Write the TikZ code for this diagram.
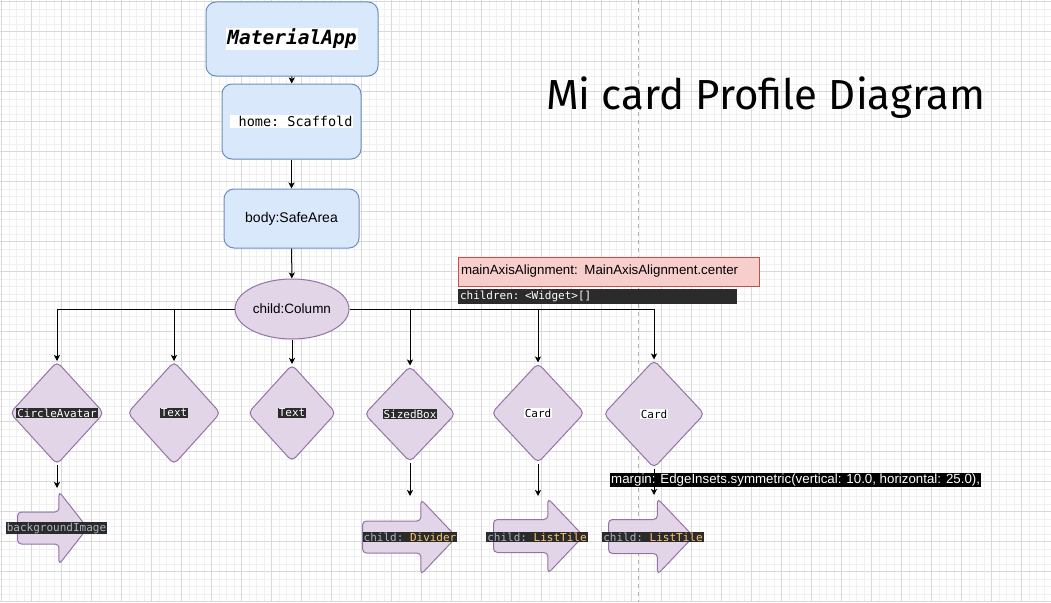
\documentclass[tikz,border=0pt]{standalone}
\usepackage{fontspec}
\setmainfont{Liberation Sans}
\setmonofont{DejaVu Sans Mono}
\newfontfamily\titlefont{Fira Sans}
\usetikzlibrary{shapes.geometric,shapes.arrows,arrows.meta}
\definecolor{bluefill}{HTML}{DAE8FC}
\definecolor{blueline}{HTML}{6C8EBF}
\definecolor{purplefill}{HTML}{E1D5E7}
\definecolor{purpleline}{HTML}{9673A6}
\definecolor{redfill}{HTML}{F8CECC}
\definecolor{redline}{HTML}{B85450}
\definecolor{codebg}{HTML}{2B2B2B}
\definecolor{codegray}{HTML}{A9B7C6}
\definecolor{codeyellow}{HTML}{FFC66D}
\definecolor{gridminor}{HTML}{F0F0F0}
\definecolor{gridmajor}{HTML}{D9D9D9}
\begin{document}
\begin{tikzpicture}[x=1pt,y=-1pt,
    box/.style={draw=blueline,fill=bluefill,rounded corners=10pt,line width=1pt},
    wdg/.style={diamond,draw=purpleline,fill=purplefill,rounded corners=5pt,line width=1pt,inner sep=0pt},
    chld/.style={single arrow,draw=purpleline,fill=purplefill,rounded corners=4pt,line width=1pt,inner sep=0pt,
      single arrow tip angle=93,single arrow head extend=21pt,anchor=tail},
    code/.style={fill=codebg,text=white,font=\ttfamily\fontsize{11}{13}\selectfont,inner sep=1pt},
    card/.style={fill=white,text=black,font=\ttfamily\fontsize{11}{13}\selectfont,inner sep=1pt},
    hl/.style={fill=white,inner sep=1pt},
    edge/.style={-{Stealth[length=6pt,width=6pt,inset=1.5pt]},line width=1pt}]
  \useasboundingbox (0,0) rectangle (1051,602);
  \fill[white] (0,0) rectangle (1051,602);
  \foreach \g in {0,...,139}
    \draw[gridminor,line width=0.6pt] ({1.7+7.5*\g},0) -- ({1.7+7.5*\g},602);
  \foreach \g in {0,...,80}
    \draw[gridminor,line width=0.6pt] (0,{1.7+7.5*\g}) -- (1051,{1.7+7.5*\g});
  \foreach \g in {0,...,34}
    \draw[gridmajor,line width=0.6pt] ({1.7+30*\g},0) -- ({1.7+30*\g},602);
  \foreach \g in {0,...,20}
    \draw[gridmajor,line width=0.6pt] (0,{1.7+30*\g}) -- (1051,{1.7+30*\g});
  \draw[gray!60,line width=0.8pt,dash pattern=on 4pt off 4pt] (638,0) -- (638,602);

  \node[box,minimum width=172pt,minimum height=74pt,
    label={[hl,font=\ttfamily\bfseries\itshape\fontsize{19.5}{22}\selectfont]center:MaterialApp}] (app) at (292,39) {};
  \node[box,minimum width=139pt,minimum height=75pt,
    label={[hl,font=\ttfamily\fontsize{13.5}{16}\selectfont]center:\ home: Scaffold}] (home) at (291.5,121.5) {};
  \node[box,minimum width=135pt,minimum height=59pt,font=\fontsize{14}{17}\selectfont] (safe) at (291.5,218.5) {body:SafeArea};
  \node[ellipse,draw=purpleline,fill=purplefill,line width=1pt,minimum width=114pt,minimum height=60pt,
    inner sep=0pt,font=\fontsize{13.5}{16}\selectfont] (col) at (292,309) {child:Column};

  \node[wdg,minimum width=94pt,minimum height=103pt,label={[code]center:CircleAvatar}] (avatar) at (57,413) {};
  \node[wdg,minimum width=93pt,minimum height=103pt,label={[code]center:Text}] (text1) at (174,413) {};
  \node[wdg,minimum width=88pt,minimum height=97pt,label={[code]center:Text}] (text2) at (292,413) {};
  \node[wdg,minimum width=91pt,minimum height=96pt,label={[code]center:SizedBox}] (sized) at (410,414) {};
  \node[wdg,minimum width=93pt,minimum height=100pt,label={[card]center:Card}] (card1) at (538,413) {};
  \node[wdg,minimum width=101pt,minimum height=108pt,label={[card]center:Card}] (card2) at (654,414) {};

  \node[chld,minimum height=70pt,single arrow head extend=20.5pt,single arrow tip angle=104] (bgimg) at (17,528) {\rule{0pt}{31pt}};
  \node[chld,minimum height=94pt,single arrow head extend=21.5pt] (divider) at (362,537) {\rule{0pt}{31pt}};
  \node[chld,minimum height=90pt] (tile1) at (493,536) {\rule{0pt}{32pt}};
  \node[chld,minimum height=85pt] (tile2) at (608,536.5) {\rule{0pt}{33pt}};
  \node[code,text=codegray] (bgimgtext) at (56.5,528) {backgroundImage};
  \node[code,text=codegray] (dividertext) at (410,537) {child: \textcolor{codeyellow}{Divider}};
  \node[code,text=codegray] (tile1text) at (537,537) {child: \textcolor{codeyellow}{ListTile}};
  \node[code,text=codegray] (tile2text) at (653,537) {child: \textcolor{codeyellow}{ListTile}};

  \coordinate (bgtop) at (57,488);
  \coordinate (dividertop) at (410,496);
  \coordinate (tile1top) at (538,496);
  \coordinate (tile2top) at (654,495);

  \draw[edge] (app) -- (home);
  \draw[edge] (home) -- (safe);
  \draw[edge] (safe) -- (col);
  \draw[edge] (col) -- (text2);
  \draw[edge] (col.west) -| (avatar.north);
  \draw[edge] (col.west) -| (text1.north);
  \draw[edge] (col.east) -| (sized.north);
  \draw[edge] (col.east) -| (card1.north);
  \draw[edge] (col.east) -| (card2.north);
  \draw[edge] (avatar) -- (bgtop);
  \draw[edge] (sized) -- (dividertop);
  \draw[edge] (card1) -- (tile1top);
  \draw[edge] (card2) -- (tile2top);

  \node[draw=redline,fill=redfill,line width=1pt,minimum width=301pt,minimum height=29pt,text width=295pt,
    align=left,inner sep=3pt,font=\fontsize{13.3}{15}\selectfont] (axis) at (608.5,271.5) {mainAxisAlignment: MainAxisAlignment.center};
  \node[code,text width=275pt,align=left,inner sep=2pt] (children) at (597.5,296.5) {children: <Widget>[]};
  \node[fill=black,text=white,inner sep=1pt,anchor=west,font=\fontsize{13.3}{15}\selectfont] (margin) at (610,480)
    {margin: EdgeInsets.symmetric(vertical: 10.0, horizontal: 25.0),};
  \node[font=\titlefont\fontsize{42}{48}\selectfont] (title) at (766,98) {Mi card Profile Diagram};
\end{tikzpicture}
\end{document}
